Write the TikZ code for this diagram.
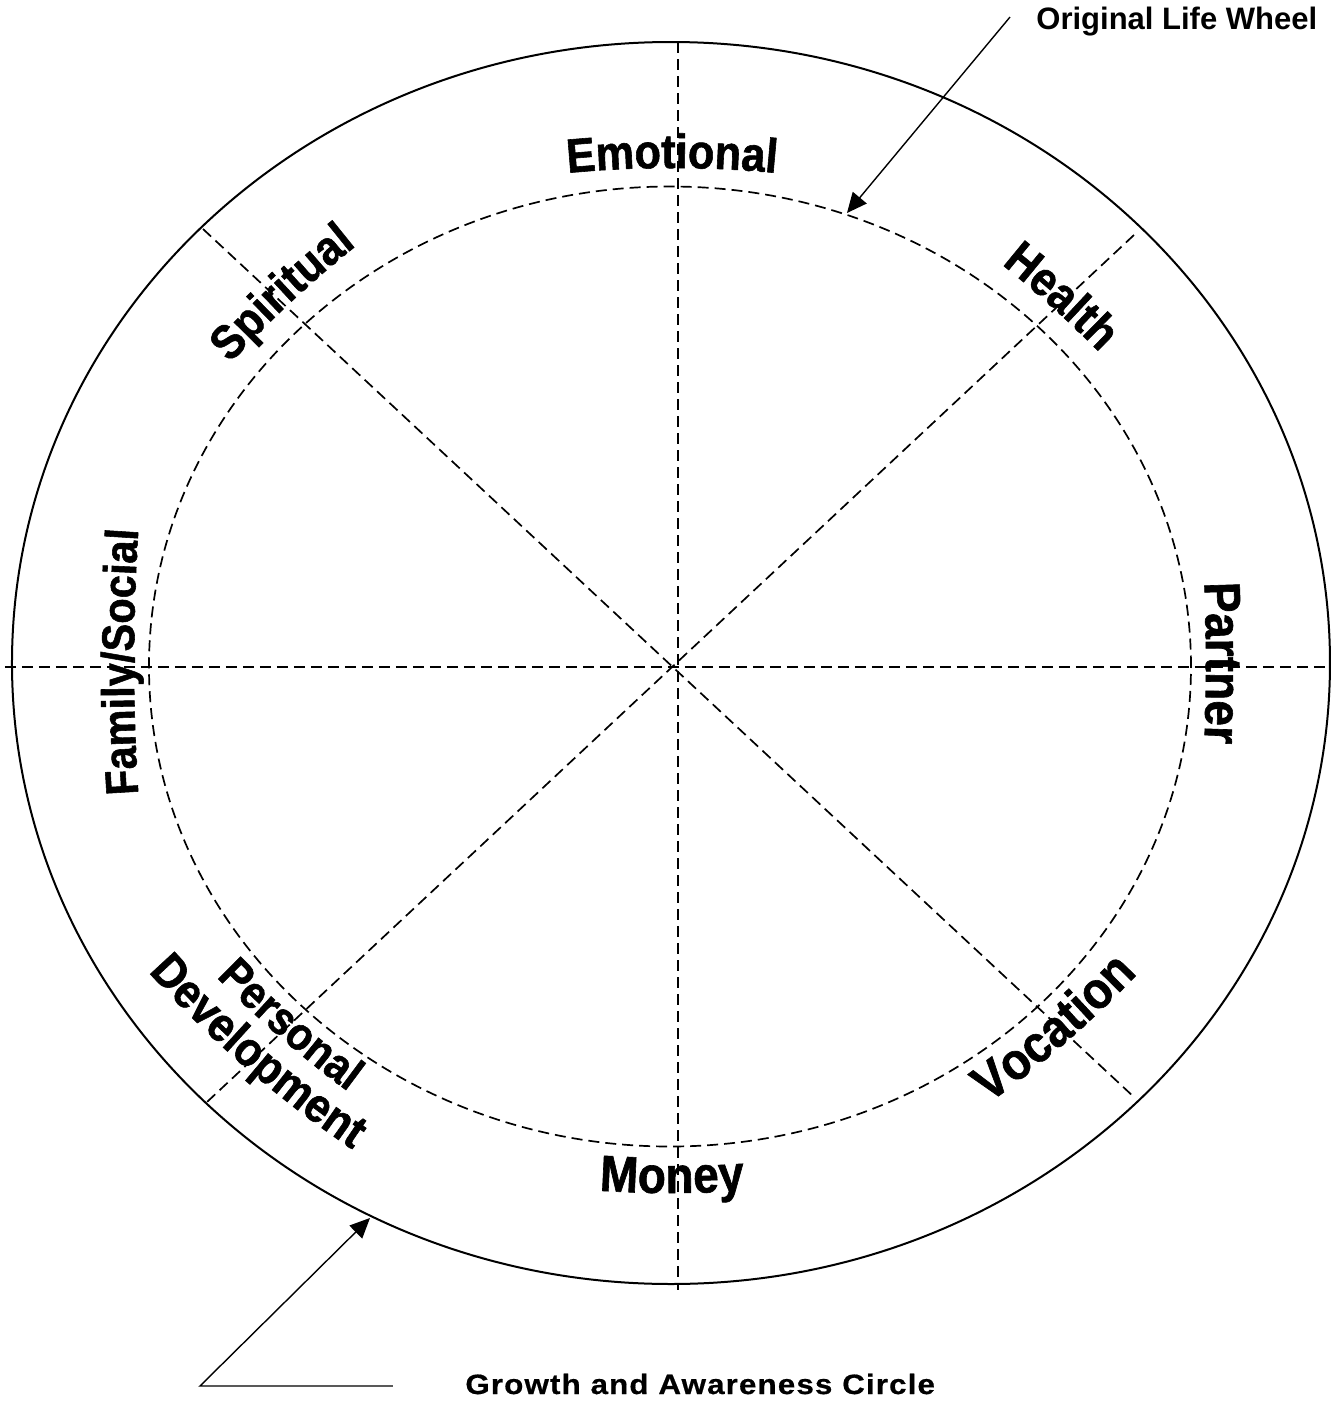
\documentclass[tikz,border=0pt]{standalone}
\usepackage{fontspec}
\setmainfont{Liberation Sans}
\newfontfamily\spacedfont[LetterSpace=4, FakeStretch=1.12, FakeBold=0.6]{Liberation Sans}
\newfontfamily\wheelfont[FakeStretch=0.9, FakeBold=1.2]{Liberation Sans}
\usetikzlibrary{arrows.meta, calc, decorations.text}

\newcommand{\lblD}{14}
% letters stand outward
\newcommand{\wheelout}[6][1100]{%
  \path[decorate, decoration={text along path, text align=center,
      text={|\wheelfont\fontsize{#5}{#5}\selectfont\bfseries|#6}}]
    ($(#2,#3)+(#4-90:#1)+(#4+90+\lblD:#1)$)
    arc[start angle={#4+90+\lblD}, end angle={#4+90-\lblD}, radius=#1];}
% letters stand toward the hub
\newcommand{\wheelin}[6][1100]{%
  \path[decorate, decoration={text along path, text align=center,
      text={|\wheelfont\fontsize{#5}{#5}\selectfont\bfseries|#6}}]
    ($(#2,#3)+(#4+90:#1)+(#4-90-\lblD:#1)$)
    arc[start angle={#4-90-\lblD}, end angle={#4-90+\lblD}, radius=#1];}

\begin{document}
\begin{tikzpicture}[
    x=0.5pt, y=0.5pt,
    rim/.style={line width=1pt},
    guide/.style={line width=0.85pt, dash pattern=on 5.5pt off 3pt},
    pointer/.style={line width=0.7pt, -{Triangle[length=10pt, width=9pt]}},
    callout/.style={font=\fontsize{15.5}{18}\selectfont\bfseries, inner sep=0pt},
    caption/.style={font=\spacedfont\fontsize{14}{16}\selectfont\bfseries, inner sep=0pt}
]
\useasboundingbox (-670,-739) rectangle (667,666);

\draw[guide] (0,-0.5) ellipse [x radius=521, y radius=480];
\draw[guide] (8,624) -- (8,-624);
\draw[guide] (-665,-1) -- (658,-1);
\draw[guide] (-467,437) -- (465,-432);
\draw[guide] (464,431) -- (-463,-436);
\draw[rim] (1,3) ellipse [x radius=659, y radius=621];

\wheelout{2}{498}{0}{24}{Emotional}
\wheelout{-379}{364}{43}{24}{Spiritual}
\wheelout{382}{359}{-42}{24}{Health}
\wheelout[2000]{-536}{4}{90}{23}{Family/Social}
\wheelout[2000]{536}{3}{-90}{25.5}{Partner}
\wheelin{2}{-527}{0}{25.5}{Money}
\wheelin{396}{-376}{41}{26}{Vocation}
\wheelin{-390}{-371}{-41}{23}{Personal}
\wheelin{-425}{-401}{-41}{24}{Development}

\node[callout, anchor=base west] (lifewheel) at (366,637) {Original Life Wheel};
\coordinate (lifetip) at (177,453);
\draw[pointer] ([xshift=-13pt, yshift=2pt]lifewheel.west) -- (lifetip);

\node[caption, anchor=base west] (growth) at (-205,-728) {Growth and Awareness Circle};
\coordinate (growthtip) at (-300,-552);
\draw[pointer] ([xshift=-36pt, yshift=-1pt]growth.west) -- ++(-193,0) -- (growthtip);
\end{tikzpicture}
\end{document}
